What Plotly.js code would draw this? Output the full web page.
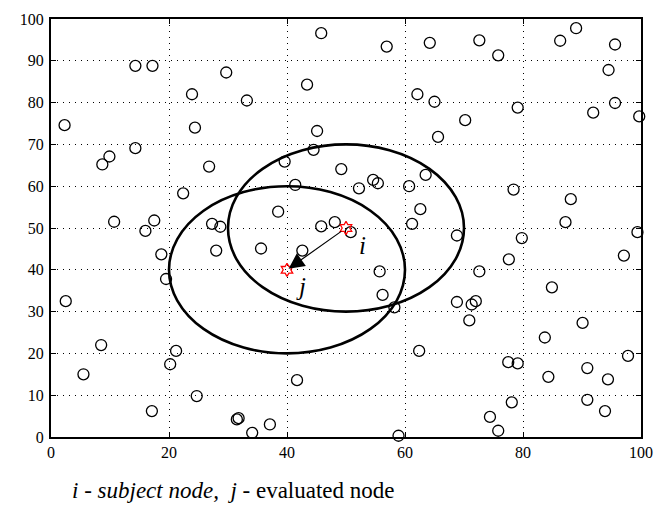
<!DOCTYPE html>
<html>
<head>
<meta charset="utf-8">
<script src="https://cdn.plot.ly/plotly-3.0.1.min.js"></script>
<style>html,body{margin:0;padding:0;background:#fff;}#chart{width:657px;height:509px;}
#chart svg text, #chart svg tspan { font-family: "Liberation Serif", "Times New Roman", serif !important; }</style>
</head>
<body>
<div id="chart"></div>
<script>
// Node positions (x, y)
var nodesX = [45.8,14.3,17.2,29.7,23.9,33.2,43.4,2.3,24.4,45.1,14.3,9.9,8.7,26.8,44.5,39.6,41.4,22.4,10.7,17.5,16.0,27.3,28.7,38.5,45.8,
  56.9,64.2,72.6,75.8,86.3,89.0,95.6,94.5,62.1,65.0,79.1,91.9,95.6,99.7,70.2,65.6,49.2,52.2,54.6,55.4,60.7,63.5,78.4,88.1,62.6,87.2,61.2,48.1,50.8,99.4,68.8,79.8,
  18.7,28.0,35.6,42.6,19.5,2.5,8.5,21.2,20.2,5.5,41.7,24.7,17.1,31.5,31.8,37.1,34.1,
  97.1,77.6,55.7,72.6,84.9,56.2,68.8,71.3,72.0,58.2,70.9,90.1,83.7,62.4,97.8,77.5,79.1,90.9,84.3,94.4,90.9,78.1,93.9,74.4,75.8,58.9];
var nodesY = [96.6,88.8,88.8,87.2,82.0,80.5,84.3,74.6,74.0,73.2,69.1,67.1,65.2,64.7,68.7,65.9,60.3,58.3,51.5,51.8,49.3,51.0,50.3,53.9,50.4,
  93.4,94.3,94.9,91.3,94.8,97.8,93.9,87.8,82.0,80.2,78.8,77.6,79.9,76.7,75.8,71.8,64.1,59.5,61.5,60.7,60.0,62.7,59.2,56.9,54.5,51.4,51.0,51.4,49.0,49.0,48.2,47.6,
  43.7,44.6,45.1,44.6,37.8,32.5,22.0,20.6,17.4,15.0,13.6,9.8,6.2,4.2,4.5,3.0,1.0,
  43.4,42.5,39.6,39.6,35.8,34.0,32.3,31.7,32.5,31.0,27.9,27.3,23.8,20.6,19.4,17.9,17.6,16.5,14.4,13.8,8.9,8.3,6.2,4.8,1.5,0.3];

// Subject node i and evaluated node j
var specialLabels = ['i', 'j'];
var specialX = [50, 40];
var specialY = [50, 40];
var rangeRadius = 20;

var xTicks = [0, 20, 40, 60, 80, 100];
var yTicks = [0, 10, 20, 30, 40, 50, 60, 70, 80, 90, 100];

var captionText = '<i>i - subject node,</i>  <i>j</i> - evaluated node';

var fontSerif = 'Liberation Serif';

var traces = [
  {
    type: 'scatter', mode: 'markers', x: nodesX, y: nodesY,
    marker: {symbol: 'circle-open', size: 11, color: '#000', line: {width: 1.3, color: '#000'}},
    cliponaxis: false, hoverinfo: 'x+y', showlegend: false
  },
  {
    type: 'scatter', mode: 'markers', x: specialX, y: specialY, text: specialLabels,
    marker: {symbol: 'hexagram-open', size: 10, color: '#ff0000', line: {width: 1.3, color: '#ff0000'}},
    cliponaxis: false, showlegend: false
  }
];

var shapes = specialX.map(function (cx, k) {
  return {
    type: 'circle', xref: 'x', yref: 'y',
    x0: cx - rangeRadius, x1: cx + rangeRadius,
    y0: specialY[k] - rangeRadius, y1: specialY[k] + rangeRadius,
    line: {color: '#000', width: 2.6}
  };
});

var annotations = [
  {
    x: specialX[1], y: specialY[1], xref: 'x', yref: 'y',
    ax: specialX[0], ay: specialY[0], axref: 'x', ayref: 'y',
    showarrow: true, arrowhead: 2, arrowsize: 2.6, arrowwidth: 1.2, arrowcolor: '#000',
    standoff: 2, startstandoff: 4, text: ''
  },
  {
    x: specialX[0], y: specialY[0], xref: 'x', yref: 'y', showarrow: false,
    text: '<i>' + specialLabels[0] + '</i>', xshift: 16, yshift: -17,
    font: {family: fontSerif, size: 25, color: '#000'}
  },
  {
    x: specialX[1], y: specialY[1], xref: 'x', yref: 'y', showarrow: false,
    text: '<i>' + specialLabels[1] + '</i>', xshift: 14, yshift: -17,
    font: {family: fontSerif, size: 25, color: '#000'}
  },
  {
    x: 0.31, y: -0.128, xref: 'paper', yref: 'paper', showarrow: false,
    text: captionText, xanchor: 'center', yanchor: 'middle',
    font: {family: fontSerif, size: 23, color: '#000'}
  }
];

var axisCommon = {
  showgrid: true, gridcolor: '#000', gridwidth: 1, griddash: '1px,5px',
  zeroline: false, showline: true, linecolor: '#000', linewidth: 2, mirror: 'ticks',
  ticks: 'inside', ticklen: 5, tickwidth: 1, tickcolor: '#000',
  tickfont: {family: fontSerif, size: 16, color: '#000'}
};

var layout = {
  width: 657, height: 509,
  margin: {l: 51, r: 16, t: 19, b: 72},
  paper_bgcolor: '#fff', plot_bgcolor: '#fff',
  font: {family: fontSerif, color: '#000'},
  showlegend: false,
  xaxis: Object.assign({}, axisCommon, {range: [0, 100], tickvals: xTicks, ticktext: xTicks.map(String)}),
  yaxis: Object.assign({}, axisCommon, {range: [0, 100], tickvals: yTicks, ticktext: yTicks.map(String), ticklabelstandoff: 2}),
  shapes: shapes,
  annotations: annotations
};

Plotly.newPlot('chart', traces, layout, {displayModeBar: false});
</script>
</body>
</html>
